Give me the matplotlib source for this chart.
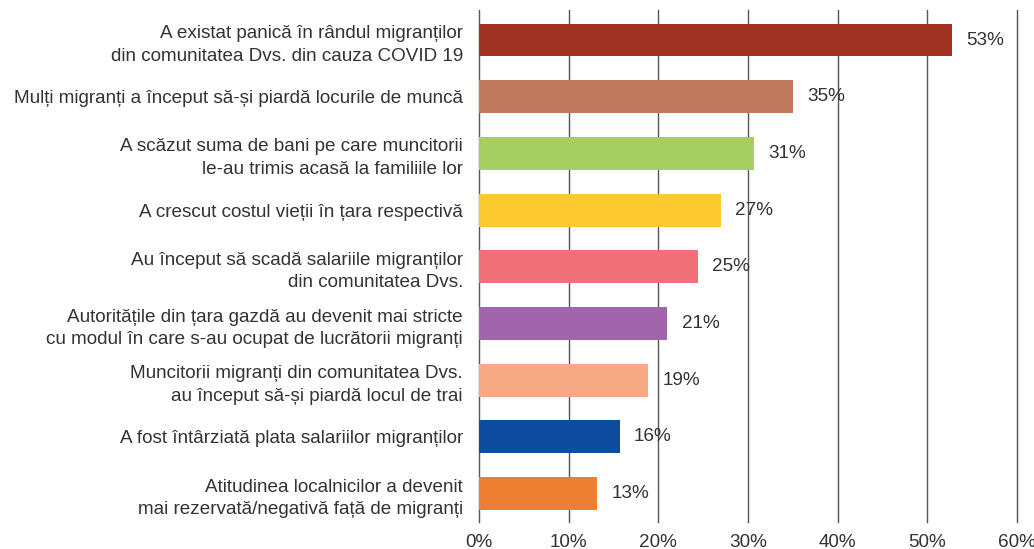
import matplotlib.pyplot as plt
from matplotlib.ticker import FuncFormatter

# Data
categories = [
    "A existat panică în rândul migranților\ndin comunitatea Dvs. din cauza COVID 19",
    "Mulți migranți a început să-și piardă locurile de muncă",
    "A scăzut suma de bani pe care muncitorii\nle-au trimis acasă la familiile lor",
    "A crescut costul vieții în țara respectivă",
    "Au început să scadă salariile migranților\ndin comunitatea Dvs.",
    "Autoritățile din țara gazdă au devenit mai stricte\ncu modul în care s-au ocupat de lucrătorii migranți",
    "Muncitorii migranți din comunitatea Dvs.\nau început să-și piardă locul de trai",
    "A fost întârziată plata salariilor migranților",
    "Atitudinea localnicilor a devenit\nmai rezervată/negativă față de migranți",
]
values = [52.7, 35.0, 30.7, 27.0, 24.4, 21.0, 18.9, 15.7, 13.2]
value_labels = ["53%", "35%", "31%", "27%", "25%", "21%", "19%", "16%", "13%"]
colors = ["#A03424", "#C27A5E", "#A5CF63", "#FCCA2E", "#F0707A",
          "#A066AD", "#F6A982", "#0D4C9E", "#EE7E32"]

plt.rcParams['font.family'] = ['Liberation Sans', 'DejaVu Sans']
fs = 13.6

fig = plt.figure(figsize=(10.34, 5.49), dpi=100)
ax = fig.add_axes([0.4632, 0.0492, 0.5204, 0.9326])

pos = list(range(len(categories)))
ax.barh(pos, values, height=0.58, color=colors, zorder=3)

for p, v, lab in zip(pos, values, value_labels):
    ax.text(v + 1.6, p, lab, va='center', ha='left', fontsize=fs, color='#333333', zorder=4)

ax.set_xlim(0, 60)
ax.set_ylim(8.5, -0.53)
ax.set_xticks(range(0, 61, 10))
ax.xaxis.set_major_formatter(FuncFormatter(lambda x, _: f"{int(x)}%"))
ax.set_yticks(pos)
ax.set_yticklabels(categories, fontsize=fs, color='#333333', linespacing=1.42)
ax.tick_params(axis='y', length=0, pad=11.5)
ax.tick_params(axis='x', length=0, pad=8.5, labelsize=fs, labelcolor='#333333')

ax.grid(axis='x', color='#555555', linewidth=1, zorder=0)
for line in ax.get_xgridlines():
    line.set_clip_on(False)
for s in ax.spines.values():
    s.set_visible(False)

fig.savefig('out.png', dpi=100)
